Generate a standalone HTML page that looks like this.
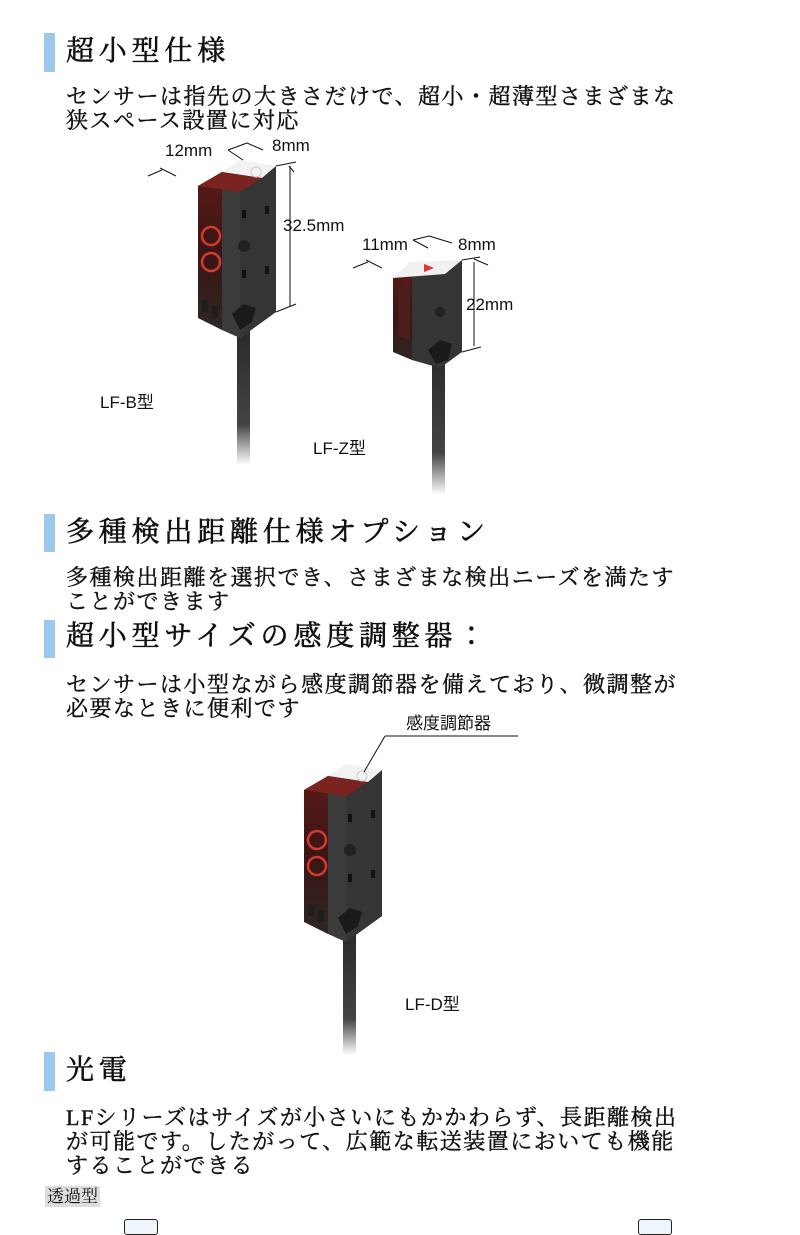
<!DOCTYPE html>
<html><head><meta charset="utf-8"><style>
html,body{margin:0;padding:0;background:#fff;}
body{width:800px;height:1227px;position:relative;overflow:hidden;font-family:"Liberation Serif","Noto Serif CJK JP","Noto Serif CJK SC",serif;color:#111;}
.bar{position:absolute;left:44px;width:11px;background:#9cc8ea;}
.h{position:absolute;left:66px;font-size:28px;letter-spacing:4.8px;white-space:nowrap;line-height:32px;-webkit-text-stroke:0.6px #111;}
.p{position:absolute;left:66px;font-size:22px;line-height:24px;white-space:nowrap;letter-spacing:1.5px;-webkit-text-stroke:0.4px #111;}
.s{position:absolute;font-family:"Liberation Sans","Noto Sans CJK JP",sans-serif;font-size:17px;white-space:nowrap;color:#111;line-height:18px;}
svg{position:absolute;left:0;top:0;}
</style></head><body>
<svg width="800" height="1227" viewBox="0 0 800 1227">
<defs>
<linearGradient id="cab" x1="0" y1="0" x2="0" y2="1"><stop offset="0" stop-color="#2a2a2a"/><stop offset="0.7" stop-color="#444"/><stop offset="1" stop-color="#fff"/></linearGradient>
<linearGradient id="redf" x1="0" y1="0" x2="0" y2="1"><stop offset="0" stop-color="#5a1a18"/><stop offset="0.5" stop-color="#3a1514"/><stop offset="1" stop-color="#2e2624"/></linearGradient>
<g id="sensor">
<polygon points="222,172 276,166 276,312 240,338 222,330" fill="#3b3b3b"/>
<polygon points="198,186 222,172 222,330 198,318" fill="url(#redf)"/>
<polygon points="222,172 240,160 277,166 262,178" fill="#f2f2f2"/>
<polygon points="198,186 222,172 262,178 240,192" fill="#7a2320"/>
<polygon points="240,192 262,178 276,166 276,312 240,338" fill="#353535"/>
<circle cx="211" cy="236" r="9" fill="none" stroke="#d23b2e" stroke-width="2.5"/>
<circle cx="211" cy="262" r="9" fill="none" stroke="#d23b2e" stroke-width="2.5"/>
<rect x="242" y="210" width="4" height="8" fill="#111"/><rect x="265" y="206" width="4" height="8" fill="#111"/>
<rect x="242" y="270" width="4" height="8" fill="#111"/><rect x="265" y="266" width="4" height="8" fill="#111"/>
<circle cx="244" cy="246" r="6" fill="#222"/>
<polygon points="232,314 244,304 256,308 252,322 240,330" fill="#1a1a1a"/>
<rect x="202" y="300" width="6" height="12" fill="#1e1e1e"/><rect x="212" y="306" width="6" height="12" fill="#1e1e1e"/>
<circle cx="256" cy="172" r="5" fill="none" stroke="#ccc"/>
</g>
</defs>
<rect x="237" y="330" width="13" height="135" fill="url(#cab)"/>
<use href="#sensor"/>
<rect x="432" y="355" width="13" height="140" fill="url(#cab)"/>
<polygon points="412,270 462,260 462,352 440,368 412,360" fill="#353535"/>
<polygon points="393,278 412,270 412,360 393,352" fill="url(#redf)"/>
<polygon points="393,278 410,262 462,260 445,274" fill="#f0f0f0"/>
<polygon points="424,264 434,268 424,272" fill="#d33"/>
<polygon points="398,288 410,282 410,340 398,336" fill="#4a1e1c"/>
<circle cx="440" cy="312" r="5" fill="#222"/>
<polygon points="428,350 440,340 452,344 448,360 436,364" fill="#1a1a1a"/>
<rect x="343" y="935" width="13" height="120" fill="url(#cab)"/>
<use href="#sensor" transform="translate(106,604)"/>
<g stroke="#111" stroke-width="1" fill="none">
<line x1="148" y1="176" x2="162" y2="170"/><line x1="160" y1="168" x2="176" y2="176"/>
<line x1="228" y1="150" x2="243" y2="160"/><line x1="228" y1="150" x2="247" y2="143"/><line x1="247" y1="143" x2="263" y2="150"/>
<line x1="276" y1="166" x2="296" y2="162"/><line x1="289" y1="166" x2="294" y2="172"/>
<line x1="290" y1="166" x2="290" y2="307"/><line x1="276" y1="312" x2="296" y2="304"/>
<line x1="353" y1="268" x2="368" y2="262"/><line x1="366" y1="260" x2="382" y2="268"/>
<line x1="413" y1="240" x2="428" y2="248"/><line x1="413" y1="240" x2="429" y2="236"/><line x1="429" y1="236" x2="452" y2="243"/>
<line x1="462" y1="260" x2="480" y2="257"/><line x1="474" y1="259" x2="488" y2="265"/>
<line x1="474" y1="262" x2="474" y2="346"/><line x1="462" y1="352" x2="481" y2="347"/>
<line x1="385" y1="736" x2="518" y2="736"/><line x1="385" y1="736" x2="364" y2="772"/>
</g>
</svg>

<div class="bar" style="top:33px;height:39px"></div>
<div class="h" style="top:36px">超小型仕様</div>
<div class="p" style="top:85px">センサーは指先の大きさだけで、超小・超薄型さまざまな<br>狭スペース設置に対応</div>
<div class="s" style="left:165px;top:142px">12mm</div>
<div class="s" style="left:272px;top:137px">8mm</div>
<div class="s" style="left:283px;top:217px">32.5mm</div>
<div class="s" style="left:362px;top:236px">11mm</div>
<div class="s" style="left:458px;top:236px">8mm</div>
<div class="s" style="left:466px;top:296px">22mm</div>
<div class="s" style="left:100px;top:394px">LF-B型</div>
<div class="s" style="left:313px;top:440px">LF-Z型</div>

<div class="bar" style="top:514px;height:38px"></div>
<div class="h" style="top:517px">多種検出距離仕様オプション</div>
<div class="p" style="top:566px">多種検出距離を選択でき、さまざまな検出ニーズを満たす<br>ことができます</div>

<div class="bar" style="top:620px;height:38px"></div>
<div class="h" style="top:621px">超小型サイズの感度調整器：</div>
<div class="p" style="top:673px">センサーは小型ながら感度調節器を備えており、微調整が<br>必要なときに便利です</div>
<div class="s" style="left:406px;top:715px">感度調節器</div>
<div class="s" style="left:405px;top:996px">LF-D型</div>

<div class="bar" style="top:1052px;height:39px"></div>
<div class="h" style="top:1055px">光電</div>
<div class="p" style="top:1106px">LFシリーズはサイズが小さいにもかかわらず、長距離検出<br>が可能です。したがって、広範な転送装置においても機能<br>することができる</div>
<div style="position:absolute;left:45px;top:1186px;background:#ddd;font-size:17px;line-height:21px;padding:0 2px">透過型</div>
<div style="position:absolute;left:124px;top:1219px;width:32px;height:14px;border:1px solid #222;border-radius:3px;background:#eef6fc"></div>
<div style="position:absolute;left:638px;top:1219px;width:32px;height:14px;border:1px solid #222;border-radius:3px;background:#eef6fc"></div>
</body></html>
